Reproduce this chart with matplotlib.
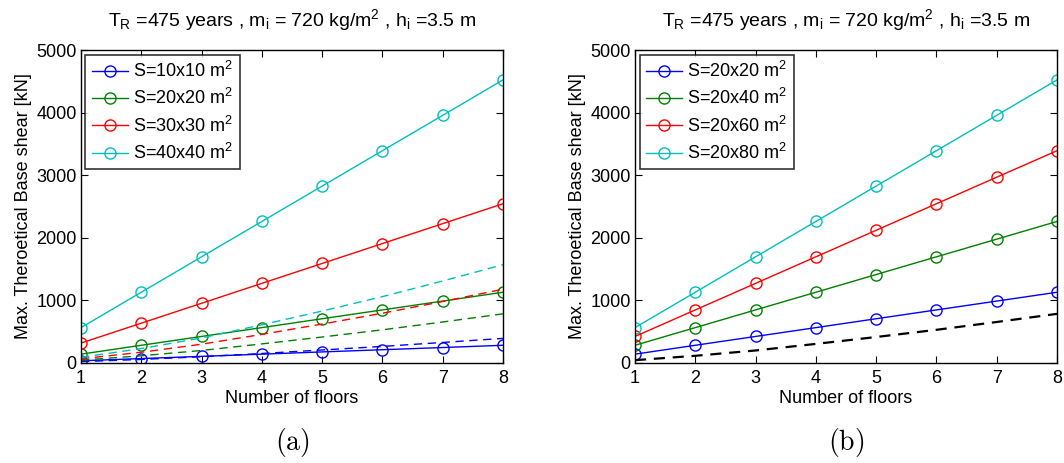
import matplotlib
matplotlib.use("Agg")
import matplotlib.pyplot as plt

plt.rcParams['font.family'] = ['Liberation Sans', 'DejaVu Sans']
plt.rcParams['mathtext.fontset'] = 'custom'
plt.rcParams['mathtext.rm'] = 'Liberation Sans'
plt.rcParams['mathtext.it'] = 'Liberation Sans'

floors = [1, 2, 3, 4, 5, 6, 7, 8]

# (a) square plans, solid = theoretical shear, dashed = reference curves
labels_a = ['S=10x10 m$^2$', 'S=20x20 m$^2$', 'S=30x30 m$^2$', 'S=40x40 m$^2$']
shear_10x10 = [35, 71, 106, 141, 177, 212, 247, 283]
shear_20x20 = [141, 283, 424, 565, 707, 848, 989, 1130]
shear_30x30 = [318, 636, 954, 1272, 1590, 1908, 2226, 2544]
shear_40x40 = [565, 1130, 1696, 2261, 2826, 3391, 3956, 4522]
ref_10x10 = [22, 57, 100, 152, 208, 265, 328, 393]
ref_20x20 = [45, 115, 200, 305, 415, 530, 655, 785]
ref_30x30 = [67, 172, 300, 457, 622, 795, 982, 1178]
ref_40x40 = [90, 230, 400, 610, 830, 1060, 1310, 1570]

# (b) rectangular plans 20 x L
labels_b = ['S=20x20 m$^2$', 'S=20x40 m$^2$', 'S=20x60 m$^2$', 'S=20x80 m$^2$']
shear_20x20b = [141, 283, 424, 565, 707, 848, 989, 1130]
shear_20x40 = [283, 565, 848, 1130, 1413, 1696, 1978, 2261]
shear_20x60 = [424, 848, 1272, 1696, 2120, 2544, 2968, 3391]
shear_20x80 = [565, 1130, 1696, 2261, 2826, 3391, 3956, 4522]
ref_b = [45, 115, 200, 305, 415, 530, 655, 785]

colors = ['#0000ff', '#008000', '#ff0000', '#00bfbf']
title = '$T_R$ =475 years , $m_i$ = 720 kg/m$^2$ , $h_i$ =3.5 m'
fs = 13

fig = plt.figure(figsize=(10.64, 4.63), dpi=100)
ax_a = fig.add_axes([0.0761, 0.216, 0.3966, 0.676])
ax_b = fig.add_axes([0.5968, 0.216, 0.3966, 0.676])

solid_a = [shear_10x10, shear_20x20, shear_30x30, shear_40x40]
dashed_a = [ref_10x10, ref_20x20, ref_30x30, ref_40x40]
for vals, lab, c in zip(solid_a, labels_a, colors):
    ax_a.plot(floors, vals, '-o', color=c, lw=1.0, ms=8, mfc='none',
              mew=1.0, label=lab)
for vals, c in zip(dashed_a, colors):
    ax_a.plot(floors, vals, '--', color=c, lw=1.0, dashes=(6, 4))

solid_b = [shear_20x20b, shear_20x40, shear_20x60, shear_20x80]
for vals, lab, c in zip(solid_b, labels_b, colors):
    ax_b.plot(floors, vals, '-o', color=c, lw=1.0, ms=8, mfc='none',
              mew=1.0, label=lab)
ax_b.plot(floors, ref_b, '--', color='black', lw=1.6, dashes=(5, 3.5))

for ax in (ax_a, ax_b):
    ax.set_xlim(1, 8)
    ax.set_ylim(0, 5000)
    ax.set_xticks(floors)
    ax.set_yticks([0, 1000, 2000, 3000, 4000, 5000])
    ax.tick_params(axis='both', direction='in', top=True, right=True,
                   labelsize=fs, length=5, width=0.8)
    ax.tick_params(axis='x', pad=5)
    ax.tick_params(axis='y', pad=3)
    for sp in ax.spines.values():
        sp.set_linewidth(1.0)
    ax.set_xlabel('Number of floors', fontsize=fs, labelpad=2)
    ax.set_ylabel('Max. Theroetical Base shear [kN]', fontsize=fs, labelpad=3)
    ax.set_title(title, fontsize=14, pad=17)
    leg = ax.legend(loc='upper left', fontsize=fs, frameon=True, fancybox=False,
                    edgecolor='black', handlelength=2.0, handletextpad=0.3,
                    labelspacing=0.4, borderpad=0.35, borderaxespad=0.25)
    leg.get_frame().set_linewidth(1.2)

fig.text(0.2744, 0.045, r'$\mathrm{(a)}$', math_fontfamily='cm', fontsize=20,
         ha='center', va='center')
fig.text(0.7951, 0.045, r'$\mathrm{(b)}$', math_fontfamily='cm', fontsize=20,
         ha='center', va='center')

fig.savefig('out.png', dpi=100, facecolor='white')
